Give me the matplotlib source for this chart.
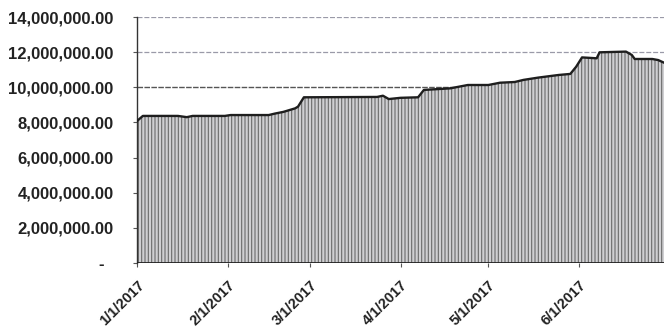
import matplotlib
matplotlib.use("Agg")
import matplotlib.pyplot as plt
import matplotlib.ticker as mticker
import pandas as pd

# Data
dates = ["2017-01-01", "2017-01-03", "2017-01-15", "2017-01-18", "2017-01-20",
         "2017-01-31", "2017-02-02", "2017-02-15", "2017-02-17", "2017-02-20",
         "2017-02-24", "2017-02-25", "2017-02-27", "2017-03-24", "2017-03-26",
         "2017-03-28", "2017-04-01", "2017-04-07", "2017-04-09", "2017-04-18",
         "2017-04-24", "2017-05-01", "2017-05-05", "2017-05-10", "2017-05-13",
         "2017-05-18", "2017-05-25", "2017-05-29", "2017-05-31", "2017-06-02",
         "2017-06-07", "2017-06-08", "2017-06-17", "2017-06-19", "2017-06-20",
         "2017-06-26", "2017-06-28", "2017-06-30"]
values = [8.08, 8.37, 8.37, 8.30, 8.37,
          8.37, 8.42, 8.42, 8.50, 8.60,
          8.80, 8.90, 9.43, 9.45, 9.52,
          9.33, 9.40, 9.43, 9.85, 9.94,
          10.13, 10.13, 10.26, 10.30, 10.42,
          10.55, 10.70, 10.76, 11.17, 11.70,
          11.65, 11.99, 12.03, 11.84, 11.61,
          11.61, 11.55, 11.40]
values = [v * 1_000_000 for v in values]
tick_dates = ["2017-01-01", "2017-02-01", "2017-03-01", "2017-04-01", "2017-05-01", "2017-06-01"]
tick_labels = ["1/1/2017", "2/1/2017", "3/1/2017", "4/1/2017", "5/1/2017", "6/1/2017"]
y_ticks = [0, 2_000_000, 4_000_000, 6_000_000, 8_000_000, 10_000_000, 12_000_000, 14_000_000]

x = pd.to_datetime(dates)

plt.rcParams['hatch.linewidth'] = 0.8
fig = plt.figure(figsize=(6.64, 3.35), dpi=100)
ax = fig.add_axes([137 / 664, 1 - 263 / 335, 1 - 137 / 664, (263 - 17) / 335])

ax.axhline(14_000_000, color="#9a9aa8", lw=0.9, ls=(0, (4, 1.5)), zorder=0)
ax.axhline(12_000_000, color="#9a9aa8", lw=0.9, ls=(0, (4, 1.5)), zorder=0)
ax.axhline(10_000_000, color="#555555", lw=1.0, ls=(0, (4, 1.0)), zorder=0)

ax.fill_between(x, values, 0, facecolor="#cfcfd2", edgecolor="#6a6a6a",
                hatch="|||||", linewidth=0, zorder=2)
ax.plot(x, values, color="#1e1e1e", lw=1.7, zorder=3)
ax.axhline(0, color="#222222", lw=2.0, zorder=4)

ax.set_xlim(pd.Timestamp("2017-01-01"), pd.Timestamp("2017-06-30"))
ax.set_ylim(0, 14_000_000)

def fmt(v, pos):
    if v == 0:
        return "-  "
    return f"{v:,.2f}"

ax.set_yticks(y_ticks)
ax.yaxis.set_major_formatter(mticker.FuncFormatter(fmt))
ax.set_xticks(pd.to_datetime(tick_dates))
ax.set_xticklabels(tick_labels)

for lab in ax.get_yticklabels():
    lab.set_fontfamily("Liberation Sans")
    lab.set_fontsize(12)
    lab.set_fontweight("bold")
    lab.set_color("#222222")
for lab in ax.get_xticklabels():
    lab.set_fontfamily("Liberation Sans")
    lab.set_fontsize(10.5)
    lab.set_fontweight("bold")
    lab.set_color("#222222")
    lab.set_rotation(45)
    lab.set_ha("right")
    lab.set_rotation_mode("anchor")

ax.tick_params(axis="y", length=3, width=0.8, color="#555555", pad=14)
ax.tick_params(axis="x", length=3, width=0.8, color="#555555", pad=8)

for s in ["top", "right", "bottom"]:
    ax.spines[s].set_visible(False)
ax.spines["left"].set_color("#333333")
ax.spines["left"].set_linewidth(1.0)

fig.savefig("out.png", dpi=100, facecolor="white")
